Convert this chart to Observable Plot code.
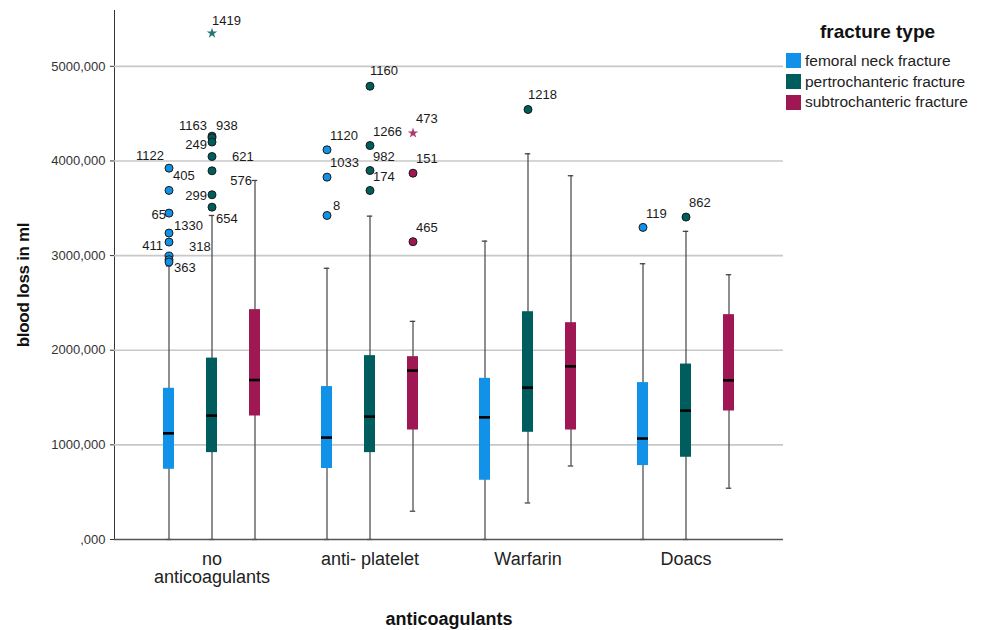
<!DOCTYPE html>
<html>
<head>
<meta charset="utf-8">
<script src="https://cdn.jsdelivr.net/npm/d3@7"></script>
<script src="https://cdn.jsdelivr.net/npm/@observablehq/plot@0.6"></script>
<style>
  body { margin: 0; background: #fff; font-family: "Liberation Sans", Arial, sans-serif; }
  #wrap { position: relative; width: 987px; height: 630px; overflow: hidden; }
  #chart svg { display: block; }
  .ytitle { position: absolute; left: 24px; top: 285px; transform: translate(-50%, -50%) rotate(-90deg);
            font-weight: bold; font-size: 17px; white-space: nowrap; color: #111; letter-spacing: -0.3px; }
  .xtitle { position: absolute; left: 449px; top: 619px; transform: translate(-50%, -50%);
            font-weight: bold; font-size: 18px; white-space: nowrap; color: #111; }
  .legend { position: absolute; left: 786px; top: 19px; color: #222; }
  .legend .ttl { font-weight: bold; font-size: 19px; margin-left: 34px; height: 26px; line-height: 26px; color: #111; margin-bottom: 5.5px; }
  .legend .item { display: flex; align-items: center; height: 20.8px; font-size: 15.5px; }
  .legend .sw { width: 15px; height: 15px; margin-right: 4px; flex: none; }
</style>
</head>
<body>
<div id="wrap">
  <div id="chart"></div>
  <div class="ytitle">blood loss in ml</div>
  <div class="xtitle">anticoagulants</div>
  <div class="legend" id="legend"></div>
</div>
<script>
// ---------- data ----------
const groups = ["no anticoagulants", "anti- platelet", "Warfarin", "Doacs"];
const groupLabels = ["no\nanticoagulants", "anti- platelet", "Warfarin", "Doacs"];
const types = ["femoral neck fracture", "pertrochanteric fracture", "subtrochanteric fracture"];
const colors = ["#1192e8", "#005d5d", "#9f1853"];
const yTicks = [0, 1000, 2000, 3000, 4000, 5000];

// [lower whisker, Q1, median, Q3, upper whisker] per group
const femoralStats = [
  [0, 742, 1122, 1598, 2890],
  [0, 750, 1077, 1616, 2866],
  [0, 626, 1291, 1703, 3153],
  [0, 781, 1067, 1658, 2914]
];
const pertrochantericStats = [
  [0, 918, 1309, 1917, 3424],
  [0, 918, 1299, 1943, 3417],
  [386, 1133, 1605, 2407, 4076],
  [0, 869, 1362, 1854, 3256]
];
const subtrochantericStats = [
  [0, 1305, 1685, 2429, 3794],
  [299, 1157, 1785, 1932, 2305],
  [777, 1157, 1830, 2291, 3844],
  [542, 1358, 1682, 2376, 2798]
];

// outliers: [group index, value, case id]
const femoralOutliers = [
  [0, 3924, "1122"], [0, 3689, "405"], [0, 3449, "65"], [0, 3238, "1330"],
  [0, 3143, "411"], [0, 2995, "318"], [0, 2957, ""], [0, 2932, "363"],
  [1, 4118, "1120"], [1, 3829, "1033"], [1, 3424, "8"],
  [3, 3298, "119"]
];
const pertrochantericOutliers = [
  [0, 4262, "1163"], [0, 4245, "938"], [0, 4200, "249"], [0, 4047, "621"],
  [0, 3896, ""], [0, 3643, "299"], [0, 3512, "654"],
  [1, 4790, "1160"], [1, 4163, "1266"], [1, 3899, "982"], [1, 3688, "174"],
  [2, 4544, "1218"],
  [3, 3407, "862"]
];
const subtrochantericOutliers = [
  [1, 3871, "151"], [1, 3147, "465"]
];
// extreme values (stars): [group index, value, case id]
const femoralExtremes = [];
const pertrochantericExtremes = [[0, 5350, "1419"]];
const subtrochantericExtremes = [[1, 4294, "473"]];
// case id shown at the top whisker end
const whiskerLabels = [[2, 0, "576"]]; // [type index, group index, id]

// ---------- styling (label placement, offsets) ----------
const typeDx = [-43, 0, 43];
const defaultLabel = {dx: 3, dy: -14, anchor: "start"};
const labelPlace = {
  "1122": {dx: -5, dy: -12, anchor: "end"},
  "405": {dx: 4, dy: -15, anchor: "start"},
  "65": {dx: -3, dy: 2, anchor: "end"},
  "1330": {dx: 5, dy: -7, anchor: "start"},
  "411": {dx: -6, dy: 4, anchor: "end"},
  "318": {dx: 20, dy: -9, anchor: "start"},
  "363": {dx: 5, dy: 6, anchor: "start"},
  "1163": {dx: -5, dy: -10, anchor: "end"},
  "938": {dx: 4, dy: -12, anchor: "start"},
  "249": {dx: -5, dy: 3, anchor: "end"},
  "621": {dx: 20, dy: 0, anchor: "start"},
  "299": {dx: -5, dy: 1, anchor: "end"},
  "654": {dx: 4, dy: 12, anchor: "start"},
  "1419": {dx: 0, dy: -12, anchor: "start"},
  "1160": {dx: 0, dy: -15, anchor: "start"},
  "1218": {dx: 0, dy: -15, anchor: "start"},
  "8": {dx: 6, dy: -10, anchor: "start"},
  "576": {dx: -3, dy: 0, anchor: "end"}
};

// ---------- build ----------
const statsByType = [femoralStats, pertrochantericStats, subtrochantericStats];
const outliersByType = [femoralOutliers, pertrochantericOutliers, subtrochantericOutliers];
const extremesByType = [femoralExtremes, pertrochantericExtremes, subtrochantericExtremes];

const marks = [];
marks.push(Plot.ruleY(yTicks.filter(d => d > 0), {stroke: "#c8c8c8", strokeWidth: 1.6}));

types.forEach((t, k) => {
  const rows = statsByType[k].map((s, i) => ({group: groups[i], low: s[0], q1: s[1], med: s[2], q3: s[3], high: s[4]}));
  const dx = typeDx[k];
  marks.push(Plot.ruleX(rows, {x: "group", y1: "low", y2: "high", dx, stroke: "#444", strokeWidth: 1.2}));
  marks.push(Plot.tickY(rows, {x: "group", y: "high", dx, insetLeft: 2.8, insetRight: 2.8, stroke: "#444", strokeWidth: 1.3}));
  marks.push(Plot.tickY(rows, {x: "group", y: "low", dx, insetLeft: 2.8, insetRight: 2.8, stroke: "#444", strokeWidth: 1.3}));
  marks.push(Plot.barY(rows, {x: "group", y1: "q1", y2: "q3", dx, fill: colors[k]}));
  marks.push(Plot.tickY(rows, {x: "group", y: "med", dx, stroke: "#000", strokeWidth: 2.6}));

  const outs = outliersByType[k].map(o => ({group: groups[o[0]], value: o[1], id: o[2]}));
  marks.push(Plot.dot(outs, {x: "group", y: "value", dx, r: 4, fill: colors[k], stroke: "#1a1a1a", strokeWidth: 1}));
  const ext = extremesByType[k].map(o => ({group: groups[o[0]], value: o[1], id: o[2]}));
  marks.push(Plot.dot(ext, {x: "group", y: "value", dx, r: 3.3, symbol: "star", fill: colors[k], fillOpacity: 0.85, stroke: "none"}));

  outs.concat(ext).filter(o => o.id !== "").forEach(o => {
    const p = labelPlace[o.id] || defaultLabel;
    marks.push(Plot.text([o], {x: "group", y: "value", text: "id", dx: dx + p.dx, dy: p.dy,
      textAnchor: p.anchor, fontSize: 13, fill: "#1a1a1a"}));
  });
});

whiskerLabels.forEach(([k, gi, id]) => {
  const s = statsByType[k][gi];
  const p = labelPlace[id] || defaultLabel;
  marks.push(Plot.text([{group: groups[gi], value: s[4], id}], {x: "group", y: "value", text: "id",
    dx: typeDx[k] + p.dx, dy: p.dy, textAnchor: p.anchor, fontSize: 13, fill: "#1a1a1a"}));
});

marks.push(Plot.ruleY([0], {stroke: "#555", strokeWidth: 1.3}));
marks.push(Plot.text(groups, {x: d => d, text: (d, i) => groupLabels[i], frameAnchor: "bottom",
  lineAnchor: "top", dy: 12, fontSize: 18, fill: "#222", lineHeight: 1.02}));

const chart = Plot.plot({
  width: 987,
  height: 630,
  marginLeft: 114,
  marginRight: 204,
  marginTop: 10,
  marginBottom: 91,
  x: {domain: groups, type: "band", paddingInner: 0.9305, paddingOuter: 0.578, axis: null},
  y: {domain: [0, 5590], ticks: 6, tickFormat: d => d === 0 ? ",000" : d + ",000",
      tickSize: 4, line: true, label: null},
  style: {fontFamily: "'Liberation Sans', Arial, sans-serif", fontSize: "13px", color: "#333", background: "transparent"},
  marks
});
document.getElementById("chart").appendChild(chart);

const legend = document.getElementById("legend");
const ttl = document.createElement("div");
ttl.className = "ttl";
ttl.textContent = "fracture type";
legend.appendChild(ttl);
types.forEach((t, k) => {
  const it = document.createElement("div");
  it.className = "item";
  const sw = document.createElement("span");
  sw.className = "sw";
  sw.style.background = colors[k];
  const tx = document.createElement("span");
  tx.textContent = t;
  it.appendChild(sw);
  it.appendChild(tx);
  legend.appendChild(it);
});
</script>
</body>
</html>
